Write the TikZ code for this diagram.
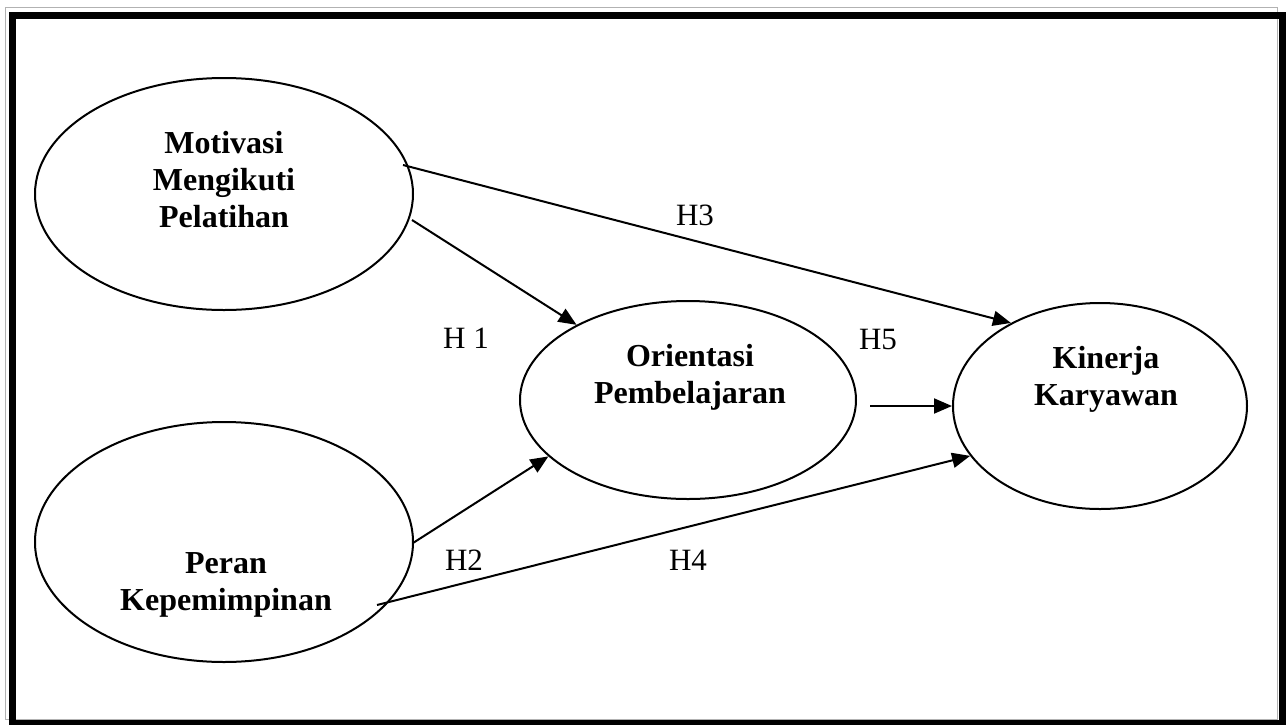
\documentclass[tikz,border=0pt]{standalone}
\usepackage{fontspec}
\setmainfont{Liberation Serif}
\usetikzlibrary{shapes.geometric,arrows.meta}

\begin{document}
\begin{tikzpicture}[x=1pt,y=-1pt,
  latent/.style={ellipse,draw,line width=2pt,inner sep=0pt},
  vname/.style={font=\fontsize{32}{37}\selectfont\bfseries,align=center,inner sep=0pt},
  hyp/.style={font=\fontsize{31}{36}\selectfont,inner sep=0pt,anchor=base},
  link/.style={line width=2pt,-{Triangle[length=18pt,width=15pt]}}]

\useasboundingbox (0,0) rectangle (1286,724);

% thick-thin page frame
\draw[gray!60, line width=1pt] (5,7) rectangle (1277,719);
\draw[line width=7pt] (12.5,15.5) rectangle (1282.5,723.5);

% latent variables
\node[latent, minimum width=378pt, minimum height=232pt] (mot) at (224,194) {};
\node[latent, minimum width=378pt, minimum height=240pt] (per) at (224,542) {};
\node[latent, minimum width=336pt, minimum height=198pt] (ori) at (688,400) {};
\node[latent, minimum width=294pt, minimum height=206pt] (kin) at (1100,406) {};

\node[vname] (motT) at (224,180) {Motivasi\\Mengikuti\\Pelatihan};
\node[vname] (perT) at (226,585) {Peran\\Kepemimpinan};
\node[vname] (oriT) at (690,377) {Orientasi\\Pembelajaran};
\node[vname] (kinT) at (1106,379) {Kinerja\\Karyawan};

% arrow start points
\coordinate (h3s) at (403,165);
\coordinate (h1s) at (412,220);
\coordinate (h2s) at (413,543);
\coordinate (h4s) at (377,605);
\coordinate (h5s) at (870,406);

\draw[link] (h3s) -- (kin.137);
\draw[link] (h1s) -- (ori.146);
\draw[link] (h2s) -- (ori.202);
\draw[link] (h4s) -- (kin.201);
\draw[link] (h5s) -- (kin.west);

% hypothesis labels
\node[hyp] (lh1) at (466,348) {H 1};
\node[hyp] (lh2) at (464,570) {H2};
\node[hyp] (lh3) at (695,225) {H3};
\node[hyp] (lh4) at (688,570) {H4};
\node[hyp] (lh5) at (878,349) {H5};
\end{tikzpicture}
\end{document}
